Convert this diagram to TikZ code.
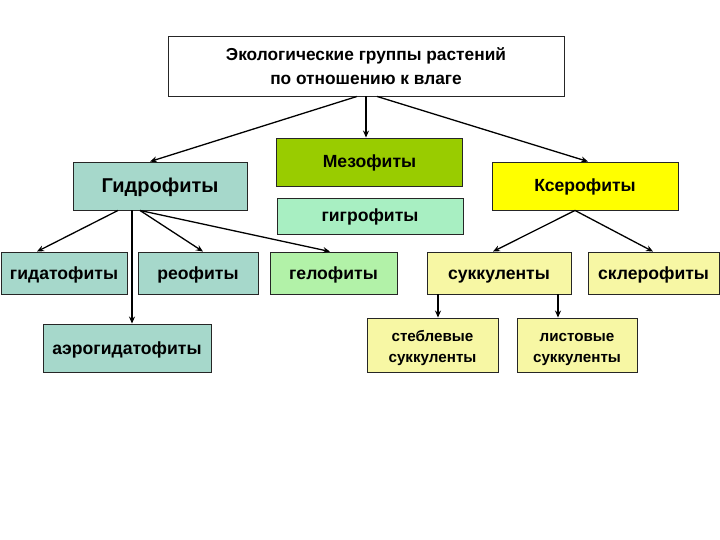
\documentclass[tikz,border=0pt]{standalone}
\usepackage{fontspec}
\setmainfont{Liberation Sans}
\usetikzlibrary{arrows.meta,calc}
\definecolor{hydro}{HTML}{A6D8CB}
\definecolor{meso}{HTML}{99CC00}
\definecolor{hygro}{HTML}{A8EFC2}
\definecolor{helo}{HTML}{B2F2A8}
\definecolor{xero}{HTML}{FFFF00}
\definecolor{succ}{HTML}{F7F7A4}
\tikzset{
  box/.style={draw=black!85, line width=0.9pt, inner sep=0pt, align=center, font=\bfseries\fontsize{17.6}{20}\selectfont},
  one/.style={text height=15pt, text depth=3pt},
  small/.style={font=\bfseries\fontsize{15.2}{21.5}\selectfont},
  arr/.style={line width=1.3pt, -{Stealth[length=7pt,width=6pt]}}
}
\begin{document}
\begin{tikzpicture}[x=1pt,y=-1pt]
\useasboundingbox[fill=white] (0,0) rectangle (720,540);
\node[box, fill=white, minimum width=396pt, minimum height=60pt, font=\bfseries\fontsize{17.3}{24}\selectfont] (top) at (366,66) {Экологические группы растений\\по отношению к влаге};
\node[box, one, fill=meso, minimum width=186pt, minimum height=48pt] (meso) at (369.5,162) {Мезофиты};
\node[box, one, fill=hygro, minimum width=186pt, minimum height=36pt] (hygro) at (370,216) {гигрофиты};
\node[box, one, fill=hydro, minimum width=174pt, minimum height=48pt, text height=16pt, text depth=3.6pt, font=\bfseries\fontsize{20}{22}\selectfont] (hydro) at (160,186) {Гидрофиты};
\node[box, one, fill=xero, minimum width=186pt, minimum height=48pt] (xero) at (585,186) {Ксерофиты};
\node[box, one, fill=hydro, minimum width=126pt, minimum height=42pt] (hydato) at (64,273) {гидатофиты};
\node[box, one, fill=hydro, minimum width=120pt, minimum height=42pt] (reo) at (198,273) {реофиты};
\node[box, one, fill=helo, minimum width=127pt, minimum height=42pt] (helo) at (333.5,273) {гелофиты};
\node[box, one, fill=hydro, minimum width=168pt, minimum height=48pt] (aero) at (127,348) {аэрогидатофиты};
\node[box, one, fill=succ, minimum width=144pt, minimum height=42pt] (succ) at (499,273) {суккуленты};
\node[box, one, fill=succ, minimum width=131pt, minimum height=42pt] (sclero) at (653.5,273) {склерофиты};
\node[box, small, fill=succ, minimum width=131pt, minimum height=54pt] (stem) at (432.5,345) {\rule{0pt}{17pt}стеблевые\\суккуленты};
\node[box, small, fill=succ, minimum width=120pt, minimum height=54pt] (leaf) at (577,345) {\rule{0pt}{17pt}листовые\\суккуленты};
% arrows
\draw[arr] ($(top.south)+(-9,0)$) -- ($(hydro.north)+(-10,0)$);
\draw[arr] ($(top.south)+(11,0)$) -- ($(xero.north)+(3,0)$);
\draw[arr] (top.south) -- (top.south |- meso.north);
\draw[arr] ($(hydro.south)+(-42,0)$) -- ($(hydato.north)+(-27,0)$);
\coordinate (hv) at ($(hydro.south)+(-28,0)$);
\draw[arr] (hv) -- (hv |- aero.north);
\coordinate (hs) at ($(hydro.south)+(-20,0)$);
\draw[arr] (hs) -- ($(reo.north)+(5,0)$);
\draw[arr] (hs) -- ($(helo.north)+(-3.5,0)$);
\coordinate (xs) at ($(xero.south)+(-10,0)$);
\draw[arr] (xs) -- ($(succ.north)+(-6,0)$);
\draw[arr] (xs) -- ($(sclero.north)+(-0.5,0)$);
\coordinate (s1) at ($(succ.south)+(-61,0)$);
\draw[arr] (s1) -- (s1 |- stem.north);
\coordinate (s2) at ($(succ.south)+(59,0)$);
\draw[arr] (s2) -- (s2 |- leaf.north);
\end{tikzpicture}
\end{document}
